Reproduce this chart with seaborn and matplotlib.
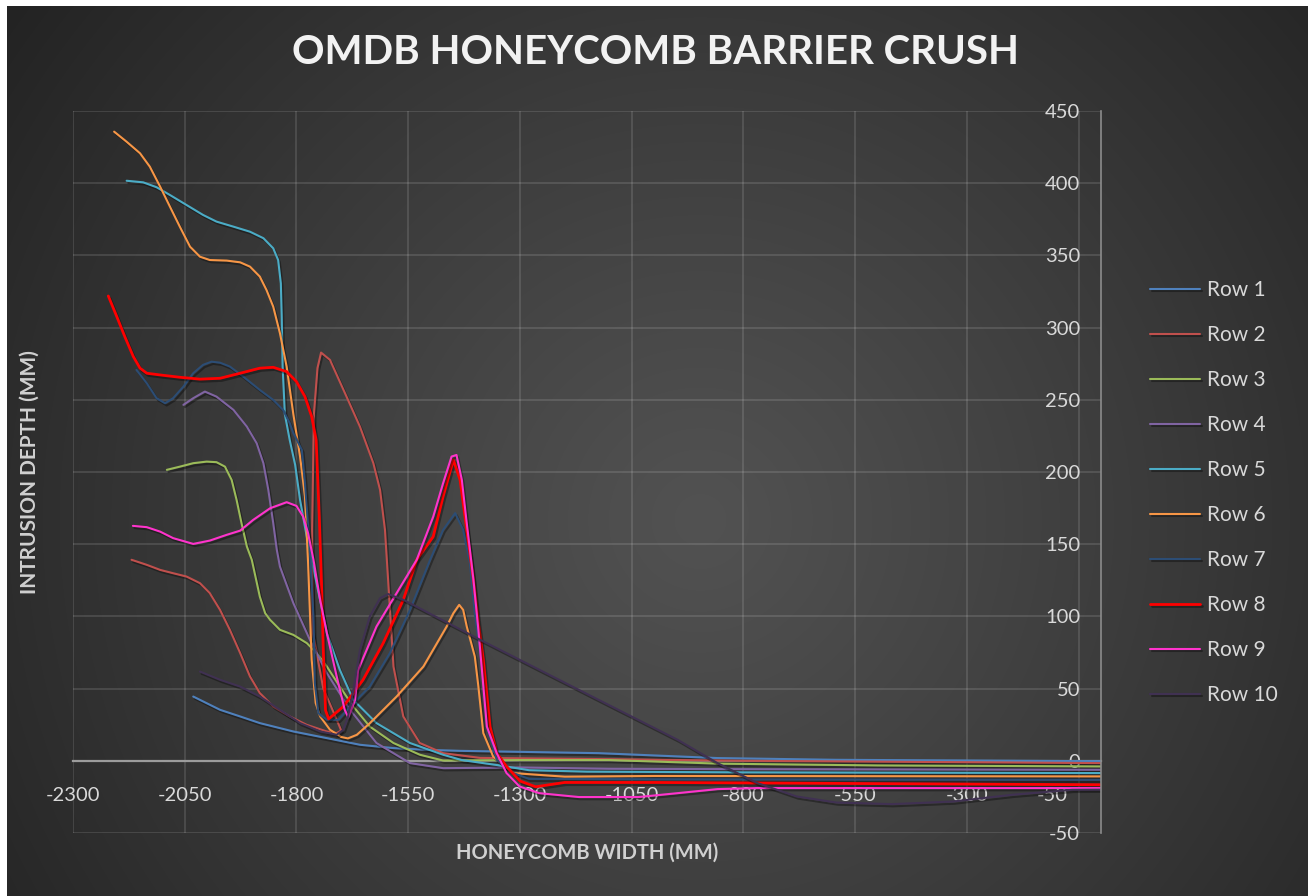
import numpy as np
import pandas as pd
import matplotlib
matplotlib.use("Agg")
import matplotlib.pyplot as plt
import matplotlib.patheffects as pe
from matplotlib.transforms import ScaledTranslation
import seaborn as sns

# ---- data: intrusion depth (mm) against honeycomb width position (mm) ----
row1_x = [-2031, -2001, -1971, -1926, -1882, -1807, -1732, -1658, -1583, -1509, -1434, -1300,
          -1124, -858, -593, 0]
row1_y = [44.5, 39.9, 35.3, 30.7, 26.1, 20.3, 15.7, 11.1, 8.8, 7.6, 6.9, 6.2,
          5.3, 1.9, 0.7, -0.3]

row2_x = [-2169, -2135, -2105, -2076, -2046, -2016, -1994, -1971, -1949, -1926, -1904, -1882,
          -1852, -1815, -1777, -1732, -1710, -1700, -1712, -1740, -1764, -1765, -1761, -1753,
          -1745, -1725, -1688, -1658, -1628, -1613, -1602, -1595, -1589, -1583, -1561, -1524,
          -1472, -1389, -1124, -800, 0]
row2_y = [139.2, 135.7, 132.2, 129.9, 127.6, 123, 116.1, 104.5, 90.7, 74.6, 58.4, 46.9,
          37.6, 30.7, 24.9, 20.3, 19.2, 21, 30, 50, 90, 160, 240, 272,
          282.7, 277.6, 252.2, 231.4, 206.1, 187.6, 159.9, 125.3, 95.5, 65.3, 30.7, 12.3,
          5.3, 2, 1.2, 0, -1.6]

row3_x = [-2090, -2061, -2031, -2001, -1979, -1960, -1945, -1934, -1923, -1911, -1900, -1882,
          -1870, -1859, -1837, -1807, -1777, -1755, -1732, -1703, -1673, -1636, -1583, -1524,
          -1472, -1427, -1300, -1100, -850, -500, 0]
row3_y = [201.5, 203.7, 206.1, 207.2, 206.8, 203.7, 194.5, 180.7, 164.6, 148.4, 139.2, 113.7,
          102.2, 97.6, 90.7, 87.2, 81.5, 74.6, 65.3, 51.4, 37.6, 23.7, 12.3, 4.2,
          0.2, 0.3, 0.5, 0.5, -2, -3.2, -3.9]

row4_x = [-2053, -2031, -2005, -1979, -1941, -1911, -1889, -1874, -1863, -1852, -1844, -1837,
          -1807, -1770, -1732, -1680, -1621, -1546, -1472, -1300, -1100, -800, 0]
row4_y = [246.5, 251.1, 255.7, 252.2, 243, 231.4, 219.9, 206.1, 187.6, 164.6, 146.1, 134.5,
          109.2, 83.8, 60.7, 35.3, 12.3, -1.6, -5.1, -4.6, -5.5, -5.8, -6.2]

row5_x = [-2180, -2143, -2113, -2083, -2046, -2009, -1979, -1941, -1904, -1874, -1852, -1841,
          -1835, -1833, -1831, -1826, -1815, -1803, -1792, -1777, -1755, -1732, -1703, -1673,
          -1621, -1546, -1472, -1430, -1350, -1280, -1150, -800, 0]
row5_y = [401.7, 400.6, 397.2, 391.8, 384.9, 378, 373.4, 369.9, 366.4, 361.9, 354.9, 346.8,
          330.7, 307.6, 273, 240, 222, 205, 180.7, 155.3, 123, 88.4, 63, 42.2,
          26.1, 12.3, 4.2, 0.5, -3, -6.5, -7.5, -8, -8.5]

row6_x = [-2208, -2180, -2150, -2128, -2105, -2083, -2061, -2038, -2016, -1994, -1956, -1926,
          -1904, -1882, -1867, -1852, -1837, -1822, -1807, -1792, -1781, -1774, -1766, -1757,
          -1747, -1725, -1700, -1685, -1665, -1636, -1576, -1516, -1464, -1449, -1436, -1427,
          -1419, -1401, -1393, -1382, -1360, -1315, -1200, -1000, 0]
row6_y = [435.7, 428.7, 420.7, 411.4, 397.6, 383.7, 369.9, 356, 349.1, 346.8, 346.4, 345.2,
          342.2, 335.3, 326, 314.5, 296.1, 273, 240, 210.7, 183, 136.9, 70, 40,
          30.7, 21.5, 16.5, 15.5, 18, 26, 44.5, 65.3, 93, 102.2, 108, 104.5,
          93, 72.2, 51.4, 19.2, 3, -8.5, -11, -10.5, -10.8]

row7_x = [-2158, -2135, -2113, -2094, -2076, -2053, -2031, -2009, -1990, -1971, -1949, -1919,
          -1882, -1852, -1830, -1815, -1807, -1788, -1781, -1770, -1762, -1759, -1751, -1732,
          -1706, -1680, -1636, -1591, -1546, -1501, -1472, -1445, -1427, -1412, -1401, -1382,
          -1374, -1352, -1315, -1280, -1000, 0]
row7_y = [270.7, 261.5, 251.1, 247.6, 251.1, 259.1, 268.4, 274.2, 276.4, 275.7, 273, 266,
          256.8, 249.9, 243, 233.8, 226.9, 215.3, 192.2, 146.1, 99.9, 53.8, 33, 28.4,
          28.4, 37.6, 51.4, 74.6, 104.5, 139.2, 159.9, 171.5, 159.9, 136.9, 102.2, 58.4,
          23.7, 0.7, -8.5, -12.5, -12.8, -13.2]

row8_x = [-2221, -2202, -2184, -2165, -2150, -2135, -2105, -2061, -2016, -1971, -1926, -1882,
          -1852, -1822, -1800, -1781, -1766, -1756, -1749, -1744, -1740, -1735, -1728, -1695,
          -1651, -1606, -1561, -1531, -1494, -1472, -1449, -1434, -1419, -1404, -1393, -1382,
          -1367, -1352, -1330, -1300, -1265, -1200, -1000, 0]
row8_y = [321.9, 307.6, 293.7, 279.9, 271.9, 268.4, 267.2, 265.6, 264.3, 264.9, 268.4, 271.9,
          272.5, 269.5, 262.6, 252.2, 238.4, 222.2, 169.1, 123, 76.8, 35, 29, 37.6,
          56.1, 81.5, 111.5, 139.2, 155.3, 183, 208.4, 194.5, 159.9, 125.3, 95.3, 69.9,
          23.7, 5.3, -3.9, -14, -18, -15, -15, -16.6]

row9_x = [-2166, -2135, -2105, -2076, -2031, -1994, -1956, -1926, -1897, -1859, -1822, -1800,
          -1785, -1774, -1762, -1747, -1732, -1710, -1692, -1684, -1669, -1662, -1643, -1621,
          -1576, -1531, -1494, -1472, -1453, -1442, -1430, -1419, -1404, -1393, -1374, -1352,
          -1330, -1301, -1257, -1168, -1035, -947, -858, -770, 0]
row9_y = [162.7, 161.8, 158.7, 154.2, 150.2, 152.5, 156.5, 159.4, 166.8, 174.9, 179.1, 176.5,
          169.1, 157.6, 139.2, 111.5, 88.4, 58.4, 35.3, 30, 42.2, 63, 76.8, 93,
          116.1, 139.2, 169.1, 192.2, 210.7, 211.8, 194.5, 164.6, 125.3, 90.7, 23.7, 5.3,
          -8.5, -17.8, -22.4, -25.1, -25.1, -22.4, -19.6, -18.9, -18.9]

row10_x = [-2016, -1971, -1926, -1882, -1837, -1792, -1747, -1710, -1695, -1685, -1672, -1658,
           -1636, -1613, -1595, -1561, -1389, -1124, -947, -858, -769, -681, -592, -468,
           -331, -198, -65, 0]
row10_y = [61.8, 56.1, 51.4, 44.5, 35.3, 26.1, 20.3, 18, 21.5, 30, 50, 76.8,
           99.9, 112.6, 115.5, 111.5, 83.8, 42.2, 14.5, -1.6, -15.4, -24.7, -28.9, -30,
           -28.2, -23.5, -20.1, -20]

row_names = ["Row 1", "Row 2", "Row 3", "Row 4", "Row 5",
             "Row 6", "Row 7", "Row 8", "Row 9", "Row 10"]
row_colors = ["#4F81BD", "#C0504D", "#9BBB59", "#8064A2", "#4BACC6",
              "#F79646", "#2C4D75", "#FF0000", "#FF33CC", "#403152"]

x_ticks = [-2300, -2050, -1800, -1550, -1300, -1050, -800, -550, -300, -50]
x_tick_labels = ["-2300", "-2050", "-1800", "-1550", "-1300", "-1050", "-800", "-550", "-300", "-50"]
y_ticks = [-50, 0, 50, 100, 150, 200, 250, 300, 350, 400, 450]
y_tick_labels = ["-50", "0", "50", "100", "150", "200", "250", "300", "350", "400", "450"]

series = [(row1_x, row1_y), (row2_x, row2_y), (row3_x, row3_y), (row4_x, row4_y),
          (row5_x, row5_y), (row6_x, row6_y), (row7_x, row7_y), (row8_x, row8_y),
          (row9_x, row9_y), (row10_x, row10_y)]

frames = []
for name, (xs, ys) in zip(row_names, series):
    frames.append(pd.DataFrame({"row": name, "width": xs, "depth": ys}))
df = pd.concat(frames, ignore_index=True)

# ---- style ----
sns.set_theme(style="dark")
plt.rcParams["font.family"] = ["Lato", "DejaVu Sans"]

W, H, DPI = 1308, 896, 100
fig = plt.figure(figsize=(W / DPI, H / DPI), dpi=DPI, facecolor="white")

# dark radial backdrop
bg = fig.add_axes([7 / W, 0, 1 - 7 / W, 1 - 6 / H])
bg.axis("off")
gx, gy = np.meshgrid(np.arange(7, W), np.arange(6, H))
cx, cy, rad = 700.0, 520.0, 860.0
d = np.clip(np.hypot(gx - cx, gy - cy) / rad, 0, 1)
inner, outer = 0x52 / 255, 0x23 / 255
shade = inner + (outer - inner) * d ** 1.1
bg.imshow(np.dstack([shade, shade, shade]), aspect="auto", interpolation="bilinear",
          extent=[0, 1, 0, 1])
bg.set_xlim(0, 1)
bg.set_ylim(0, 1)

ax = fig.add_axes([73 / W, 1 - 833 / H, (1101 - 73) / W, (833 - 111) / H])
ax.patch.set_alpha(0)

shadow = [pe.SimpleLineShadow(offset=(1.2, -1.6), shadow_color="black", alpha=0.35), pe.Normal()]
for name, color in zip(row_names, row_colors):
    sub = df[df["row"] == name]
    lw = 2.0 if name == "Row 8" else 1.5
    sns.lineplot(data=sub, x="width", y="depth", sort=False, estimator=None,
                 color=color, linewidth=lw, label=name, ax=ax, path_effects=shadow)

ax.set_xlim(-2300, 0)
ax.set_ylim(-50, 450)
ax.set_xticks(x_ticks)
ax.set_xticklabels(x_tick_labels)
ax.set_yticks(y_ticks)
ax.set_yticklabels(y_tick_labels)
ax.set_xlabel("")
ax.set_ylabel("")

ax.grid(True, color="white", alpha=0.13, linewidth=1.3)
ax.set_axisbelow(True)

for side in ["left", "top"]:
    ax.spines[side].set_visible(False)
ax.spines["bottom"].set_position(("data", 0))
ax.spines["bottom"].set_color("#9c9c9c")
ax.spines["bottom"].set_linewidth(1.6)
ax.spines["bottom"].set_zorder(1.5)
ax.spines["right"].set_color("#8c8c8c")
ax.spines["right"].set_linewidth(1.2)

ax.yaxis.tick_right()
ax.tick_params(axis="y", length=0, pad=-15, labelsize=14.5, colors="#d9d9d9")
ax.tick_params(axis="x", length=0, pad=19, labelsize=14.5, colors="#d9d9d9")
for tk in ax.yaxis.get_major_ticks():
    tk.label2.set_horizontalalignment("right")
last = ax.xaxis.get_major_ticks()[-1]
last.label1.set_transform(last.label1.get_transform() + ScaledTranslation(-0.26, 0, fig.dpi_scale_trans))

leg = ax.legend(loc="upper left", bbox_to_anchor=(1150 / W, 1 - 280 / H), bbox_transform=fig.transFigure,
                frameon=False, fontsize=15, labelcolor="#d9d9d9", handlelength=2.4,
                handletextpad=0.35, labelspacing=1.2, borderpad=0, borderaxespad=0)

fig.text(655 / W, 1 - 53 / H, "OMDB HONEYCOMB BARRIER CRUSH", ha="center", va="center",
         fontsize=29, fontweight="bold", color="#f2f2f2")
fig.text(587 / W, 1 - 853 / H, "HONEYCOMB WIDTH (MM)", ha="center", va="center",
         fontsize=14.5, fontweight="bold", color="#d0d0d0")
fig.text(30 / W, 1 - 472 / H, "INTRUSION DEPTH (MM)", ha="center", va="center", rotation=90,
         fontsize=15, fontweight="bold", color="#d0d0d0")

fig.savefig("out.png", dpi=DPI, facecolor=fig.get_facecolor())
